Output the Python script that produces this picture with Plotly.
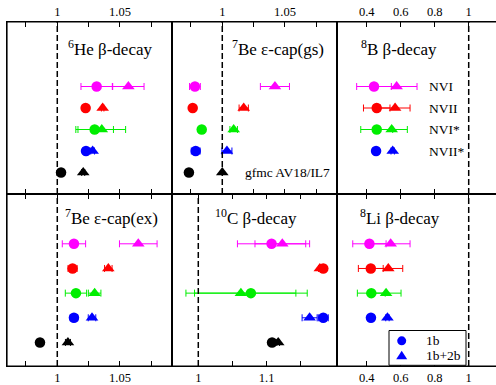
import plotly.graph_objects as go

# ---------------- data ----------------
models = ["NVI", "NVII", "NVI*", "NVII*", "gfmc AV18/IL7"]
colors = ["#ff00ff", "#ff0000", "#00ee00", "#0000ff", "#000000"]
rows = [5, 4, 3, 2, 1]
legend_labels = ["1b", "1b+2b"]

titles = ["<sup>6</sup>He β-decay", "<sup>7</sup>Be ε-cap(gs)", "<sup>8</sup>B β-decay",
          "<sup>7</sup>Be ε-cap(ex)", "<sup>10</sup>C β-decay", "<sup>8</sup>Li β-decay"]

# 6He beta-decay
he6_1b = [1.0314, 1.0226, 1.0298, 1.0229, 1.0030]
he6_1b_err = [0.0125, 0.0, 0.0150, 0.0015, 0.0]
he6_2b = [1.0567, 1.0362, 1.0355, 1.0282, 1.0207]
he6_2b_err = [0.0125, 0.0010, 0.0190, 0.0015, 0.0012]

# 7Be e-capture (gs)
be7gs_1b = [0.9782, 0.9764, 0.9836, 0.9788, 0.9734]
be7gs_1b_err = [0.0043, 0.0, 0.0, 0.0035, 0.0]
be7gs_2b = [1.0420, 1.0171, 1.0091, 1.0037, 1.0000]
be7gs_2b_err = [0.0116, 0.0037, 0.0030, 0.0040, 0.0]

# 8B beta-decay
b8_1b = [0.443, 0.459, 0.459, 0.455, None]
b8_1b_err = [0.102, 0.078, 0.094, 0.010, 0.0]
b8_2b = [0.576, 0.567, 0.547, 0.553, None]
b8_2b_err = [0.120, 0.088, 0.092, 0.010, 0.0]

# 7Be e-capture (ex)
be7ex_1b = [1.0133, 1.0122, 1.0149, 1.0133, 0.9862]
be7ex_1b_err = [0.0093, 0.0036, 0.0085, 0.0030, 0.0]
be7ex_2b = [1.0646, 1.0407, 1.0298, 1.0277, 1.0085]
be7ex_2b_err = [0.0150, 0.0030, 0.0050, 0.0030, 0.0020]

# 10C beta-decay
c10_1b = [1.1073, 1.1830, 1.0770, 1.1830, 1.1080]
c10_1b_err = [0.0500, 0.0020, 0.0825, 0.0073, 0.0]
c10_2b = [1.1230, 1.1780, 1.0624, 1.1630, 1.1170]
c10_2b_err = [0.0400, 0.0020, 0.0805, 0.0110, 0.0020]

# 8Li beta-decay
li8_1b = [0.416, 0.424, 0.427, 0.425, None]
li8_1b_err = [0.098, 0.073, 0.082, 0.010, 0.0]
li8_2b = [0.541, 0.527, 0.514, 0.522, None]
li8_2b_err = [0.114, 0.085, 0.088, 0.010, 0.0]

# axis ticks
ticks_a = [1.0, 1.05]
ticks_a_text = ["1", "1.05"]
ticks_a_minor = [0.975, 1.025, 1.075]
ticks_b = [0.4, 0.6, 0.8, 1.0]
ticks_b_text = ["0.4", "0.6", "0.8", "1"]
ticks_c = [1.0, 1.1]
ticks_c_text = ["1", "1.1"]
ticks_c_minor = [1.05, 1.15]

panels = [
    (he6_1b, he6_1b_err, he6_2b, he6_2b_err),
    (be7gs_1b, be7gs_1b_err, be7gs_2b, be7gs_2b_err),
    (b8_1b, b8_1b_err, b8_2b, b8_2b_err),
    (be7ex_1b, be7ex_1b_err, be7ex_2b, be7ex_2b_err),
    (c10_1b, c10_1b_err, c10_2b, c10_2b_err),
    (li8_1b, li8_1b_err, li8_2b, li8_2b_err),
]
x_ranges = [[0.9599, 1.0915], [0.9599, 1.0915], [0.2253, 1.1606],
            [0.9599, 1.0915], [0.9615, 1.2031], [0.2253, 1.1606]]
tick_sets = [(ticks_a, ticks_a_text, ticks_a_minor), (ticks_a, ticks_a_text, ticks_a_minor),
             (ticks_b, ticks_b_text, []), (ticks_a, ticks_a_text, ticks_a_minor),
             (ticks_c, ticks_c_text, ticks_c_minor), (ticks_b, ticks_b_text, [])]

FONT = "Liberation Serif, Times New Roman, serif"
W, H = 496, 385
ML, MR, MT, MB = 7, 0, 22, 17
pw, ph = W - ML - MR, H - MT - MB
x_domains = [[0, 165 / pw], [165 / pw, 330 / pw], [330 / pw, 1.0]]
y_domains = [[0.5, 1.0], [0.0, 0.5]]
y_ranges = [[0, 8], [0.045, 7.02]]

CIRCLE_SIZE, TRI_SIZE = 10.5, 11

fig = go.Figure()
for p, (v1, e1, v2, e2) in enumerate(panels):
    ax = "" if p == 0 else str(p + 1)
    for i in range(len(models)):
        for vals, errs, sym, sz in ((v1, e1, "circle", CIRCLE_SIZE), (v2, e2, "triangle-up", TRI_SIZE)):
            if vals[i] is None:
                continue
            fig.add_trace(go.Scatter(
                x=[vals[i]], y=[rows[i]], mode="markers",
                marker=dict(symbol=sym, size=sz, color=colors[i], line=dict(width=0)),
                error_x=dict(type="data", array=[errs[i]], visible=errs[i] > 0,
                             color=colors[i], thickness=1, width=3.5),
                xaxis="x" + ax, yaxis="y" + ax, showlegend=False, hoverinfo="skip"))

layout = dict(
    width=W, height=H,
    margin=dict(l=ML, r=MR, t=MT, b=MB),
    paper_bgcolor="white", plot_bgcolor="white",
    font=dict(family=FONT, size=13, color="black"),
    showlegend=False,
)

shapes, annotations = [], []
for p in range(6):
    r, c = divmod(p, 3)
    ax = "" if p == 0 else str(p + 1)
    tv, tt, tm = tick_sets[p]
    xa = dict(
        domain=x_domains[c], range=x_ranges[p], anchor="y" + ax,
        side="top" if r == 0 else "bottom",
        tickmode="array", tickvals=tv, ticktext=tt, ticks="inside", ticklen=5, tickwidth=1,
        tickcolor="black", tickfont=dict(family=FONT, size=12.5, color="black"),
        showline=True, linecolor="black", linewidth=1, mirror="allticks",
        showgrid=False, zeroline=False, fixedrange=True)
    if tm:
        xa["minor"] = dict(tickmode="array", tickvals=tm, ticks="inside", ticklen=5,
                           tickwidth=1, tickcolor="black", showgrid=False)
    layout["xaxis" + ax] = xa
    layout["yaxis" + ax] = dict(
        domain=y_domains[r], range=y_ranges[r], anchor="x" + ax,
        showticklabels=False, ticks="", showline=True, linecolor="black", linewidth=1,
        mirror=(c != 2), showgrid=False, zeroline=False, fixedrange=True)
    shapes.append(dict(type="line", xref="x" + ax, yref="y" + ax + " domain",
                       x0=1, x1=1, y0=0, y1=1,
                       line=dict(color="black", width=1.5, dash="6px,3px")))

# thicken outer frame
frame = dict(color="black", width=1.2)
shapes.append(dict(type="line", xref="paper", yref="paper", x0=0, x1=0, y0=0, y1=1, line=frame))
shapes.append(dict(type="line", xref="paper", yref="paper", x0=0, x1=1, y0=1, y1=1, line=frame))
shapes.append(dict(type="line", xref="paper", yref="paper", x0=0, x1=1, y0=0, y1=0, line=frame))

title_x = [0.358, 0.352, 0.14, 0.341, 0.25, 0.134]
title_y = [0.85, 0.85, 0.85, 0.867, 0.867, 0.867]
for p in range(6):
    ax = "" if p == 0 else str(p + 1)
    annotations.append(dict(text=titles[p], xref="x" + ax + " domain", yref="y" + ax + " domain",
                            x=title_x[p], y=title_y[p], xanchor="left", yanchor="middle",
                            showarrow=False, font=dict(family=FONT, size=17, color="black")))

for i in range(4):
    annotations.append(dict(text=models[i], xref="x3 domain", yref="y3", x=0.566, y=rows[i],
                            xanchor="left", yanchor="middle", showarrow=False,
                            font=dict(family=FONT, size=13.5, color="black")))
annotations.append(dict(text=models[4], xref="x2 domain", yref="y2", x=0.43, y=rows[4],
                        xanchor="left", yanchor="middle", showarrow=False,
                        font=dict(family=FONT, size=13.5, color="black")))

# legend box (drawn manually to match the compact original)
def px_x(px):
    return (px - ML) / pw

def px_y(py):
    return (H - MB - py) / ph

shapes.append(dict(type="rect", xref="paper", yref="paper",
                   x0=px_x(389), x1=px_x(466), y0=px_y(367.3), y1=px_y(332.3),
                   line=dict(color="black", width=1), fillcolor="white", layer="above"))
leg_rows = [342.7, 357.7]
shapes.append(dict(type="circle", xref="paper", yref="paper", xsizemode="pixel", ysizemode="pixel",
                   xanchor=px_x(401.7), yanchor=px_y(leg_rows[0]),
                   x0=-4.5, x1=4.5, y0=-4.5, y1=4.5,
                   fillcolor="#0000ff", line=dict(width=0), layer="above"))
shapes.append(dict(type="path", xref="paper", yref="paper", xsizemode="pixel", ysizemode="pixel",
                   xanchor=px_x(401.7), yanchor=px_y(leg_rows[1]),
                   path="M-5.5,-3.5 L5.5,-3.5 L0,5 Z",
                   fillcolor="#0000ff", line=dict(width=0), layer="above"))
for k, lab in enumerate(legend_labels):
    annotations.append(dict(text=lab, xref="paper", yref="paper", x=px_x(424), y=px_y(leg_rows[k]),
                            xanchor="left", yanchor="middle", showarrow=False,
                            font=dict(family=FONT, size=13.5, color="black")))

layout["shapes"] = shapes
layout["annotations"] = annotations
fig.update_layout(**layout)
fig.write_html("out.html", config={"displayModeBar": False},
               post_script="document.body.style.margin='0px';")
